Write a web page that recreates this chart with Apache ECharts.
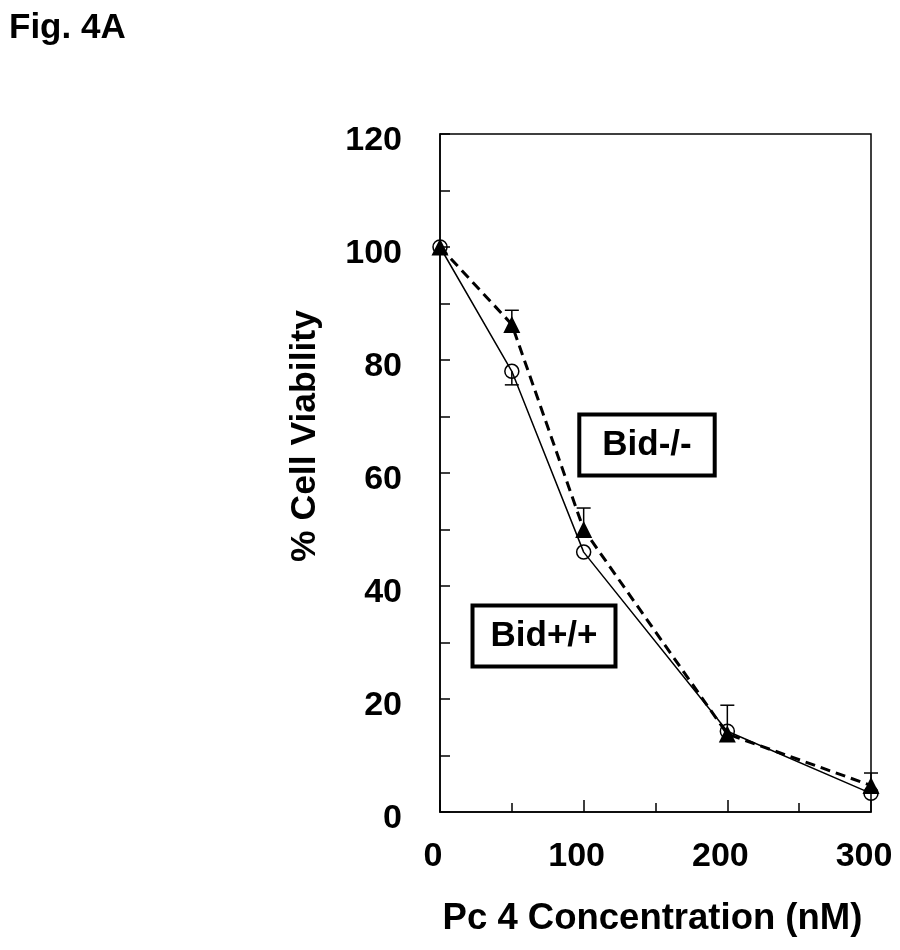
<!DOCTYPE html>
<html>
<head>
<meta charset="utf-8">
<script src="https://cdn.jsdelivr.net/npm/echarts@6/dist/echarts.min.js"></script>
<style>html,body{margin:0;padding:0;background:#fff;}#c{width:900px;height:950px;}</style>
</head>
<body>
<div id="c"></div>
<script>
var FONT = '"Liberation Sans", Arial, sans-serif';
var concentrations = [0, 50, 100, 200, 300];
var bidWT = [100, 78, 46, 14.3, 3.3];      // Bid+/+ (open circles, solid)
var bidKO = [100, 86.3, 50, 13.8, 4.7];    // Bid-/- (filled triangles, dashed)
var errX = [50, 50, 100, 200, 300];
var errFrom = [86.3, 78, 50, 14.3, 4.7];
var errTo = [88.8, 75.6, 53.8, 18.9, 6.9];
var xTickLabels = [0, 100, 200, 300];
var yTickLabels = [0, 20, 40, 60, 80, 100, 120];

function pairs(xs, ys) { return xs.map(function (x, i) { return [x, ys[i]]; }); }
var errData = errX.map(function (x, i) { return [x, errFrom[i], errTo[i]]; });

var chart = echarts.init(document.getElementById('c'));
chart.setOption({
  backgroundColor: '#fff',
  animation: false,
  title: {
    text: 'Fig. 4A', left: 9, top: 11, padding: 0,
    textStyle: { fontFamily: FONT, fontWeight: 'bold', fontSize: 35, color: '#000' }
  },
  grid: { left: 440, right: 29, top: 134, bottom: 138, show: true, borderColor: '#000', borderWidth: 1.5, backgroundColor: 'transparent' },
  xAxis: {
    type: 'value', min: 0, max: 300, interval: 100,
    name: 'Pc 4 Concentration (nM)', nameLocation: 'middle', nameGap: 88,
    nameTextStyle: { fontFamily: FONT, fontWeight: 'bold', fontSize: 36.5, color: '#000', padding: [0, 6, 0, 0] },
    axisLine: { show: true, lineStyle: { color: '#000', width: 1.5 } },
    axisTick: { show: true, inside: true, length: 12, lineStyle: { color: '#000', width: 1.5 } },
    minorTick: { show: true, splitNumber: 2, length: 9, lineStyle: { color: '#000', width: 1.5 } },
    splitLine: { show: false },
    axisLabel: {
      margin: 28, fontFamily: FONT, fontWeight: 'bold', fontSize: 34, color: '#000', padding: [0, 14, 0, 0],
      formatter: function (v) { return xTickLabels.indexOf(v) >= 0 ? String(v) : ''; }
    }
  },
  yAxis: {
    type: 'value', min: 0, max: 120, interval: 10,
    name: '% Cell Viability', nameLocation: 'middle', nameGap: 117,
    nameTextStyle: { fontFamily: FONT, fontWeight: 'bold', fontSize: 35.5, color: '#000', padding: [0, 0, 0, 74] },
    axisLine: { show: true, lineStyle: { color: '#000', width: 1.5 } },
    axisTick: { show: true, inside: true, length: 10, lineStyle: { color: '#000', width: 1.5 } },
    splitLine: { show: false },
    axisLabel: {
      margin: 38, fontFamily: FONT, fontWeight: 'bold', fontSize: 34, color: '#000',
      verticalAlign: 'top', lineHeight: 14,
      formatter: function (v) { return yTickLabels.indexOf(v) >= 0 ? String(v) : ''; }
    }
  },
  graphic: [
    {
      type: 'text', x: 647, y: 445, z: 100,
      style: {
        text: 'Bid-/-', fontFamily: FONT, fontWeight: 'bold', fontSize: 35, fill: '#000',
        align: 'center', verticalAlign: 'middle',
        borderColor: '#000', borderWidth: 4, backgroundColor: '#fff', padding: [11, 21, 11, 21]
      }
    },
    {
      type: 'text', x: 544, y: 636, z: 100,
      style: {
        text: 'Bid+/+', fontFamily: FONT, fontWeight: 'bold', fontSize: 35, fill: '#000',
        align: 'center', verticalAlign: 'middle',
        borderColor: '#000', borderWidth: 4, backgroundColor: '#fff', padding: [11, 16, 11, 16]
      }
    }
  ],
  series: [
    {
      type: 'custom', z: 1,
      data: errData,
      renderItem: function (params, api) {
        var p0 = api.coord([api.value(0), api.value(1)]);
        var p1 = api.coord([api.value(0), api.value(2)]);
        var w = 7;
        return {
          type: 'group',
          children: [
            { type: 'line', shape: { x1: p0[0], y1: p0[1], x2: p1[0], y2: p1[1] }, style: { stroke: '#000', lineWidth: 1.5 } },
            { type: 'line', shape: { x1: p1[0] - w, y1: p1[1], x2: p1[0] + w, y2: p1[1] }, style: { stroke: '#000', lineWidth: 1.5 } }
          ]
        };
      }
    },
    {
      name: 'Bid-/-', type: 'line', z: 3,
      data: pairs(concentrations, bidKO),
      symbol: 'triangle', symbolSize: 17,
      itemStyle: { color: '#000' },
      lineStyle: { color: '#000', width: 3, type: [10, 6] }
    },
    {
      name: 'Bid+/+', type: 'line', z: 4,
      data: pairs(concentrations, bidWT),
      symbol: 'circle', symbolSize: 14,
      itemStyle: { color: 'rgba(255,255,255,0)', borderColor: '#000', borderWidth: 1.5 },
      lineStyle: { color: '#000', width: 1.5 }
    }
  ]
});
</script>
</body>
</html>
